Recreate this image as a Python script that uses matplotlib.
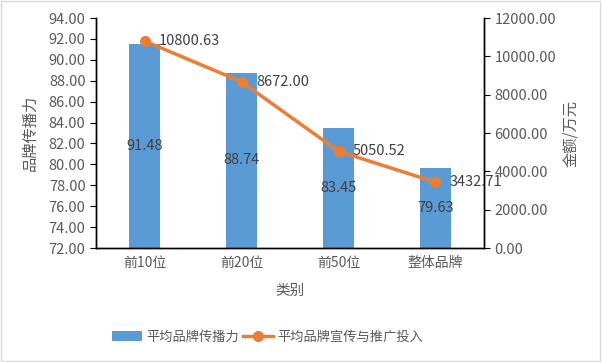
import matplotlib
matplotlib.use("Agg")
import matplotlib.pyplot as plt
import numpy as np

plt.rcParams['font.family'] = ['Noto Sans CJK SC', 'DejaVu Sans']

# 数据
categories = ["前10位", "前20位", "前50位", "整体品牌"]
spread = [91.48, 88.74, 83.45, 79.63]
invest = [10800.63, 8672.00, 5050.52, 3432.71]

txt = "#595959"
fig = plt.figure(figsize=(6.02, 3.62), dpi=100)
ax = fig.add_axes([96 / 602, 1 - 248 / 362, (484 - 96) / 602, 230 / 362])

x = np.arange(len(categories))
ax.bar(x, np.array(spread) - 72, bottom=72, width=0.31, color="#5B9BD5",
       label="平均品牌传播力", zorder=2)
ax.set_ylim(72, 94)
ax.set_yticks(np.arange(72, 94.1, 2))
ax.set_yticklabels([f"{v:.2f}" for v in np.arange(72, 94.1, 2)])
ax.set_xlim(-0.5, 3.5)
ax.set_xticks(x)
ax.set_xticklabels(categories)
for xi, v in zip(x, spread):
    ax.text(xi, (72 + v) / 2, f"{v:.2f}", ha="center", va="center",
            fontsize=10.5, color="#404040", zorder=5)

ax2 = ax.twinx()
ax2.plot(x, invest, color="#ED7D31", lw=2.5, marker="o", ms=7,
         label="平均品牌宣传与推广投入", zorder=3)
ax2.set_ylim(0, 12000)
ax2.set_yticks(np.arange(0, 12001, 2000))
ax2.set_yticklabels([f"{v:.2f}" for v in np.arange(0, 12001, 2000)])
for xi, v in zip(x, invest):
    ax2.text(xi + 0.15, v, f"{v:.2f}", ha="left", va="center",
             fontsize=10.5, color="#404040", zorder=5)

for a in (ax, ax2):
    a.spines["top"].set_visible(False)
    for s in ("left", "right", "bottom"):
        a.spines[s].set_color("black")
        a.spines[s].set_linewidth(1)
    a.tick_params(axis="y", labelsize=10.5, labelcolor=txt, length=4, direction="out")
ax.tick_params(axis="x", length=0, labelsize=10, labelcolor=txt, pad=6)

ax.set_ylabel("品牌传播力", fontsize=11, color=txt, labelpad=7)
ax2.set_ylabel("金额/万元", fontsize=11, color=txt, labelpad=4)
ax.set_xlabel("类别", fontsize=10.5, color=txt, labelpad=10)

h1, l1 = ax.get_legend_handles_labels()
h2, l2 = ax2.get_legend_handles_labels()
fig.legend(h1 + h2, l1 + l2, loc="center left", bbox_to_anchor=(100 / 602, 1 - 337 / 362),
           ncol=2, frameon=False, fontsize=9.5, labelcolor=txt,
           handlelength=2.3, columnspacing=0.3, handletextpad=0.3)

fig.patches.append(plt.Rectangle((0.002, 0.003), 0.995, 0.994, transform=fig.transFigure,
                                 fill=False, edgecolor="#D9D9D9", lw=1))
fig.savefig("out.png", dpi=100)
